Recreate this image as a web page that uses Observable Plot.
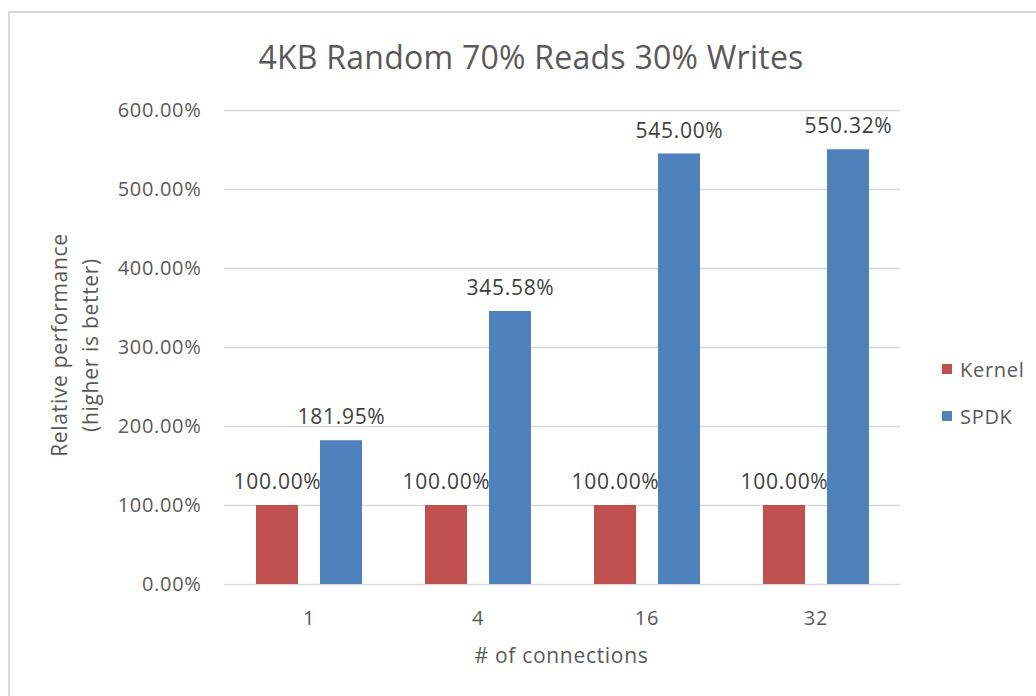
<!DOCTYPE html>
<html><head><meta charset="utf-8">
<script src="https://cdn.jsdelivr.net/npm/d3@7"></script>
<script src="https://cdn.jsdelivr.net/npm/@observablehq/plot@0.6"></script>
<style>
body{margin:0;width:1036px;height:696px;overflow:hidden;background:#fff;font-family:"Open Sans",sans-serif;position:relative}
#frame{position:absolute;left:8px;top:11px;width:1100px;height:800px;border:2px solid #d9d9d9;box-sizing:border-box}
#title{position:absolute;left:0;width:1062px;top:35px;text-align:center;font-size:32px;letter-spacing:0.25px;color:#595959;line-height:44px;white-space:nowrap}
#chart{position:absolute;left:0;top:80px}
#ytitle{position:absolute;left:-74px;top:313px;width:300px;height:64px;transform:rotate(-90deg);text-align:center;font-size:21px;letter-spacing:0.7px;line-height:31px;color:#595959;white-space:nowrap}
#xtitle{position:absolute;left:223px;width:677px;top:640px;text-align:center;font-size:21px;letter-spacing:0.7px;line-height:30px;color:#595959}
#legend{position:absolute;left:942px;top:356px;font-size:20px;letter-spacing:0.7px;color:#595959}
.li{display:flex;align-items:center;height:26px;margin-bottom:21px}
.sw{width:10px;height:10px;margin-right:8px}
</style></head>
<body>
<div id="frame"></div>
<div id="title">4KB Random 70% Reads 30% Writes</div>
<div id="ytitle">Relative performance<br>(higher is better)</div>
<div id="chart"></div>
<div id="xtitle"># of connections</div>
<div id="legend"></div>
<script>
const connections = ["1", "4", "16", "32"];
const series = ["Kernel", "SPDK"];
const kernel = [100, 100, 100, 100];
const spdk = [181.95, 345.58, 545.00, 550.32];
const yTicks = [0, 100, 200, 300, 400, 500, 600];
const colors = ["#C0504D", "#4F81BD"];

const data = connections.flatMap((c, i) => [
  {conn: c, series: "Kernel", value: kernel[i]},
  {conn: c, series: "SPDK", value: spdk[i]}
]);
const pct = d => d.toFixed(2) + "%";

const chart = Plot.plot({
  width: 920, height: 600,
  marginLeft: 223, marginRight: 20, marginTop: 30, marginBottom: 96,
  style: {fontFamily: "Open Sans", fontSize: "20px", letterSpacing: "0.7px", color: "#595959", background: "transparent", overflow: "visible"},
  fx: {domain: connections, padding: 0},
  x: {domain: series, paddingInner: 0.344, paddingOuter: 0.492, axis: null},
  y: {domain: [0, 600]},
  color: {domain: series, range: colors},
  marks: [
    Plot.ruleY(yTicks, {stroke: "#d9d9d9", strokeWidth: 1.5}),
    Plot.barY(data, {fx: "conn", x: "series", y: "value", fill: "series"}),
    Plot.text(data, {fx: "conn", x: "series", y: "value", text: d => pct(d.value), dy: -23, fill: "#404040", fontSize: 21}),
    Plot.axisY({ticks: yTicks, tickSize: 0, tickPadding: 23, tickFormat: pct, label: null}),
    Plot.axisFx({anchor: "bottom", tickSize: 0, tickPadding: 26, label: null})
  ]
});
document.getElementById("chart").appendChild(chart);

const legend = document.getElementById("legend");
series.forEach((s, i) => {
  const row = document.createElement("div");
  row.className = "li";
  const sw = document.createElement("div");
  sw.className = "sw";
  sw.style.background = colors[i];
  const t = document.createElement("span");
  t.textContent = s;
  row.appendChild(sw); row.appendChild(t);
  legend.appendChild(row);
});
</script>
</body></html>
